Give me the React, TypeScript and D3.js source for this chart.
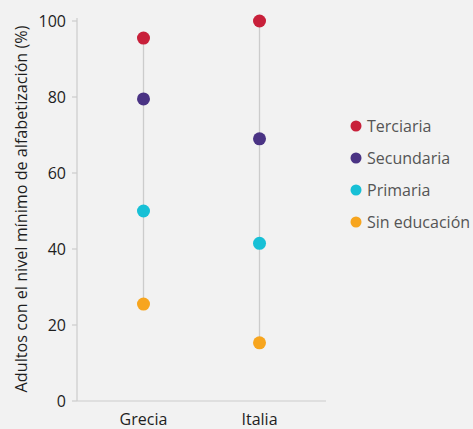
import React from "react";
import * as d3 from "d3";

const countries = ["Grecia", "Italia"];
const seriesNames = ["Terciaria", "Secundaria", "Primaria", "Sin educación"];
const seriesColors = ["#c8203a", "#4a3384", "#17c0d6", "#f7a51e"];
const grecia = [95.5, 79.5, 50, 25.5];
const italia = [100, 69, 41.5, 15.3];
const yTicks = [0, 20, 40, 60, 80, 100];
const yLabel = "Adultos con el nivel mínimo de alfabetización (%)";

const values = [grecia, italia];

export default function App() {
  const W = 473, H = 429;
  const left = 77, right = 326, top = 21, bottom = 401;
  const x = d3.scalePoint<string>().domain(countries).range([left, right]).padding(0.573);
  const y = d3.scaleLinear().domain([0, 100]).range([bottom, top]);
  const font = "'Open Sans', sans-serif";
  return (
    <svg width={W} height={H} style={{ position: "absolute", left: 0, top: 0, background: "#f2f2f2" }} fontFamily={font}>
      <rect width={W} height={H} fill="#f2f2f2" />
      <line x1={left} x2={left} y1={top - 3} y2={bottom} stroke="#cccccc" strokeWidth={1.2} />
      <line x1={left} x2={right} y1={bottom} y2={bottom} stroke="#cccccc" strokeWidth={1.2} />
      {yTicks.map((t) => (
        <g key={t}>
          <line x1={left - 5} x2={left} y1={y(t)} y2={y(t)} stroke="#cccccc" strokeWidth={1.2} />
          <text x={left - 11} y={y(t)} dy="0.35em" textAnchor="end" fontSize={16} fill="#1e1e1e">{t}</text>
        </g>
      ))}
      <text transform={`translate(${21},${209}) rotate(-90)`} textAnchor="middle" dy="0.35em" fontSize={16.2} fill="#1e1e1e">{yLabel}</text>
      {countries.map((c, i) => {
        const vals = values[i];
        const cx = x(c)!;
        return (
          <g key={c}>
            <line x1={cx} x2={cx} y1={y(d3.max(vals)!)} y2={y(d3.min(vals)!)} stroke="#cccccc" strokeWidth={1.3} />
            {vals.map((v, j) => (
              <circle key={j} cx={cx} cy={y(v)} r={6.5} fill={seriesColors[j]} />
            ))}
            <text x={cx} y={424.5} textAnchor="middle" fontSize={16} fill="#1e1e1e">{c}</text>
          </g>
        );
      })}
      {seriesNames.map((s, j) => (
        <g key={s} transform={`translate(356,${126 + j * 32})`}>
          <circle r={5.5} fill={seriesColors[j]} />
          <text x={11} dy="0.35em" fontSize={16} fill="#555">{s}</text>
        </g>
      ))}
    </svg>
  );
}
